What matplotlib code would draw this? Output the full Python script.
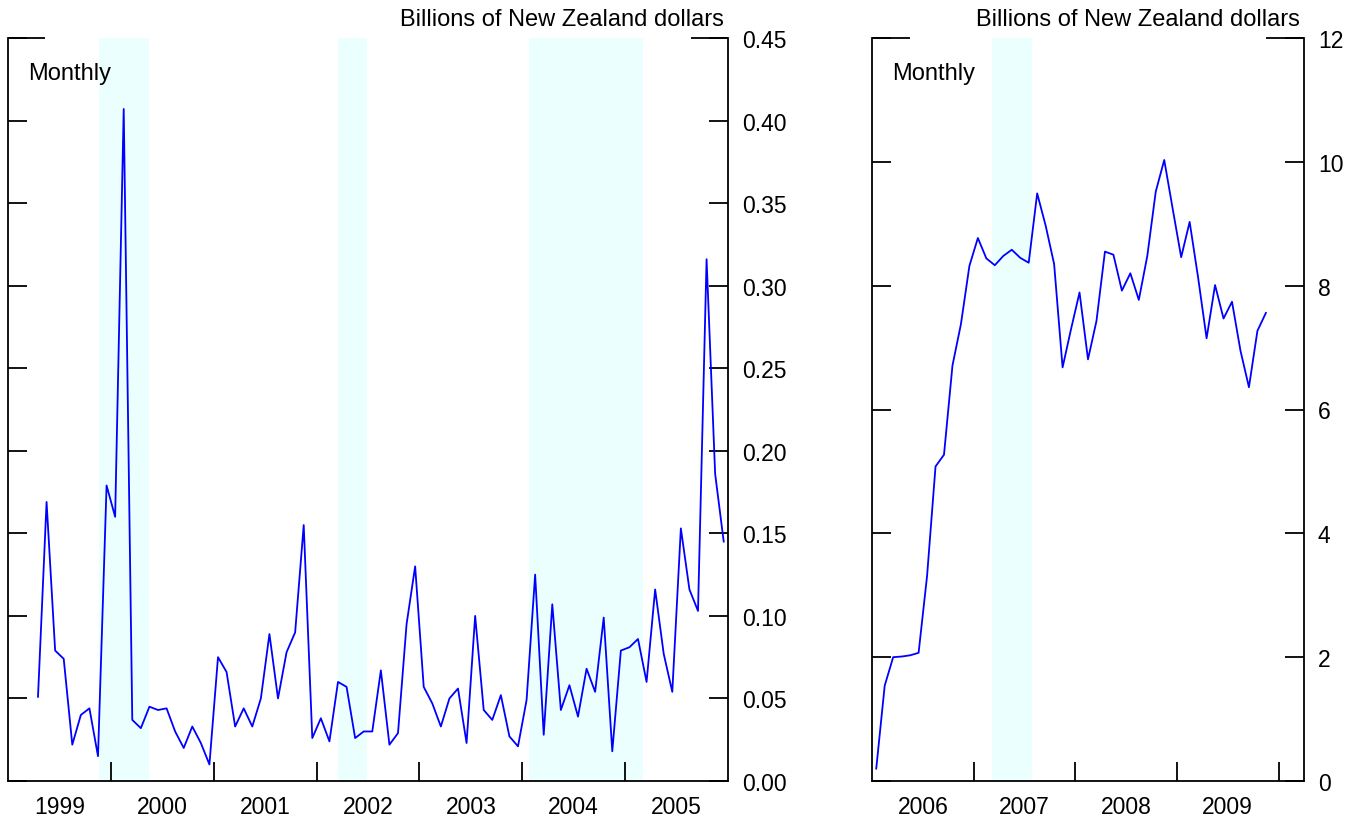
import numpy as np
import matplotlib
matplotlib.use("Agg")
import matplotlib.pyplot as plt

plt.rcParams['font.family'] = ['Liberation Sans', 'DejaVu Sans']

# monthly values, billions of NZ dollars
left_start = (1999, 4)   # Apr 1999 .. Dec 2005
left_vals = [
    0.051, 0.169, 0.079, 0.074, 0.022, 0.040, 0.044, 0.015, 0.179,
    0.160, 0.407, 0.037, 0.032, 0.045, 0.043, 0.044, 0.030, 0.020, 0.033, 0.023, 0.010,
    0.075, 0.066, 0.033, 0.044, 0.033, 0.050, 0.089, 0.050, 0.078, 0.090, 0.155, 0.026,
    0.038, 0.024, 0.060, 0.057, 0.026, 0.030, 0.030, 0.067, 0.022, 0.029, 0.095, 0.130,
    0.057, 0.047, 0.033, 0.050, 0.056, 0.023, 0.100, 0.043, 0.037, 0.052, 0.027, 0.021,
    0.049, 0.125, 0.028, 0.107, 0.043, 0.058, 0.039, 0.068, 0.054, 0.099, 0.018, 0.079,
    0.081, 0.086, 0.060, 0.116, 0.077, 0.054, 0.153, 0.116, 0.103, 0.316, 0.186, 0.145,
]
right_start = (2006, 1)  # Jan 2006 .. Nov 2009
right_vals = [
    0.20, 1.54, 2.00, 2.01, 2.03, 2.07, 3.31, 5.08, 5.27, 6.71, 7.38, 8.32,
    8.77, 8.44, 8.33, 8.48, 8.58, 8.45, 8.37, 9.49, 8.97, 8.35, 6.68, 7.30,
    7.89, 6.81, 7.43, 8.55, 8.50, 7.92, 8.20, 7.77, 8.48, 9.52, 10.03, 9.24,
    8.46, 9.03, 8.13, 7.15, 8.01, 7.47, 7.74, 6.95, 6.36, 7.27, 7.56,
]

# shaded periods (decimal years)
left_shade = [(1999.88, 2000.37), (2002.21, 2002.49), (2004.07, 2005.17)]
right_shade = [(2007.18, 2007.57)]

left_years = [1999, 2000, 2001, 2002, 2003, 2004, 2005]
right_years = [2006, 2007, 2008, 2009]
left_yticks = [0.00, 0.05, 0.10, 0.15, 0.20, 0.25, 0.30, 0.35, 0.40, 0.45]
right_yticks = [0, 2, 4, 6, 8, 10, 12]

unit_label = "Billions of New Zealand dollars"
freq_label = "Monthly"


def month_pos(start, n):
    y, m = start
    return y + (m - 1 + np.arange(n) + 0.5) / 12


def draw_panel(ax, x, vals, shade, years, xlim, yticks, fmt, top_frac):
    for a, b in shade:
        ax.axvspan(a, b, color='#ecffff', lw=0, zorder=0)
    ax.plot(x, vals, color='#0000ff', lw=1.3, zorder=3)
    ax.set_xlim(xlim)
    ax.set_ylim(yticks[0], yticks[-1])

    ax.spines['top'].set_visible(False)
    for s in ['left', 'right', 'bottom']:
        ax.spines[s].set_linewidth(1.3)

    ax.set_yticks(yticks)
    ax.set_yticklabels([fmt.format(v) for v in yticks])
    ax.tick_params(axis='y', direction='in', left=True, right=True,
                   labelleft=False, labelright=True, length=14, width=1.3,
                   labelsize=16.5, pad=10)

    # year boundaries inside the x range get a tick, labels sit mid-year
    bounds = [y for y in years[1:] + [years[-1] + 1] if y < xlim[1]]
    ax.set_xticks(bounds)
    ax.set_xticklabels([])
    ax.set_xticks([y + 0.5 for y in years], minor=True)
    ax.set_xticklabels([str(y) for y in years], minor=True)
    ax.tick_params(axis='x', which='major', direction='in', length=14, width=1.3)
    ax.tick_params(axis='x', which='minor', length=0, labelsize=16.5, pad=10)

    # longer marks at the top corners
    for xs in ([0, top_frac], [1 - top_frac, 1]):
        ax.plot(xs, [1, 1], color='black', lw=1.3, transform=ax.transAxes,
                clip_on=False, solid_capstyle='butt')

    ax.annotate(unit_label, xy=(1, 1), xycoords='axes fraction',
                xytext=(-4, 8), textcoords='offset pixels',
                ha='right', va='bottom', fontsize=17)
    ax.annotate(freq_label, xy=(0, 1), xycoords='axes fraction',
                xytext=(20, -35), textcoords='offset pixels',
                ha='left', va='center', fontsize=17)


fig = plt.figure(figsize=(13.63, 8.2), dpi=100)
ax1 = fig.add_axes([8 / 1363, 38 / 820, 720 / 1363, 743 / 820])
ax2 = fig.add_axes([872 / 1363, 38 / 820, 432 / 1363, 743 / 820])

draw_panel(ax1, month_pos(left_start, len(left_vals)), left_vals, left_shade,
           left_years, (1999, 2006), left_yticks, "{:.2f}", 0.052)
draw_panel(ax2, month_pos(right_start, len(right_vals)), right_vals, right_shade,
           right_years, (2006, 2010.25), right_yticks, "{:d}", 0.088)

fig.savefig("out.png", dpi=100)
